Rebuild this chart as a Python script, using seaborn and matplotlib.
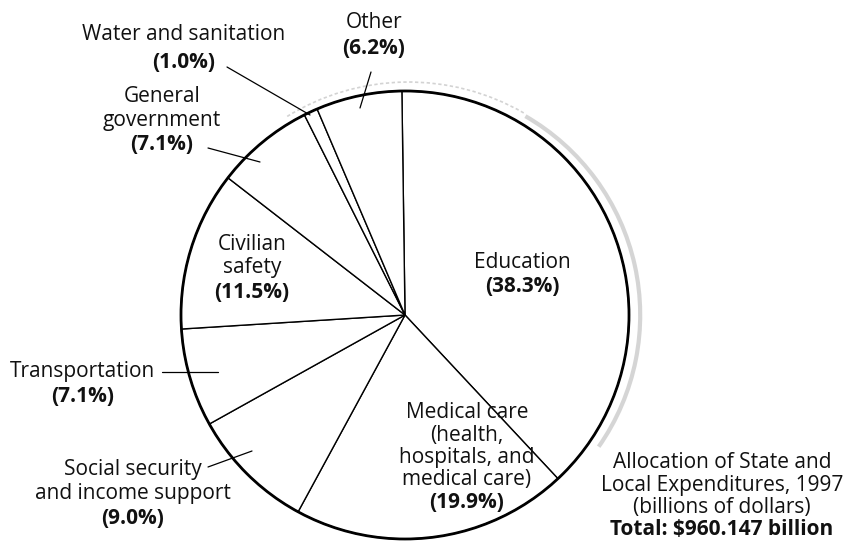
import matplotlib
matplotlib.use("Agg")
import matplotlib.pyplot as plt
import matplotlib.patches as mpatches
import seaborn as sns

categories = ["Education", "Medical care", "Social security", "Transportation",
              "Civilian safety", "General government", "Water and sanitation", "Other"]
label_lines = [
    ["Education"],
    ["Medical care", "(health,", "hospitals, and", "medical care)"],
    ["Social security", "and income support"],
    ["Transportation"],
    ["Civilian", "safety"],
    ["General", "government"],
    ["Water and sanitation"],
    ["Other"],
]
shares = [38.3, 19.9, 9.0, 7.1, 11.5, 7.1, 1.0, 6.2]
footer_lines = ["Allocation of State and", "Local Expenditures, 1997", "(billions of dollars)"]
footer_total = "Total: $960.147 billion"

sns.set_theme(style="white")
plt.rcParams["font.family"] = ["Open Sans", "DejaVu Sans"]

W, H = 846, 541
CX, CY, R = 405, 315, 224

fig = plt.figure(figsize=(W / 100, H / 100), dpi=100)
ax = fig.add_axes([0, 0, 1, 1])

ax.pie(shares, startangle=90.8, counterclock=False, radius=1,
       colors=["white"] * len(shares),
       wedgeprops=dict(edgecolor="black", linewidth=1.0))
ax.set_aspect("auto")
ax.set_xlim((0 - CX) / R, (W - CX) / R)
ax.set_ylim((CY - H) / R, CY / R)
ax.axis("off")

# faint scan-shadow arc along the upper right edge
ax.add_patch(mpatches.Arc((0.025, 0.0), 2.05, 2.05, theta1=-35, theta2=60,
                          color="#c4c4c4", lw=3.0, alpha=0.7))
ax.add_patch(mpatches.Arc((0.015, 0.01), 2.06, 2.06, theta1=60, theta2=122,
                          color="#c8c8c8", lw=1.2, ls=(0, (2, 1.5)), alpha=0.8))
ax.add_patch(mpatches.Circle((0, 0), 1, fill=False, lw=2.0, edgecolor="black", zorder=5))


def d(px, py):
    return (px - CX) / R, (CY - py) / R


FS = 15

# label anchor (pixel center of first line), line spacing
anchors = {
    0: (522, 262, 25),
    1: (467, 413, 22.3),
    2: (133, 469, 24.5),
    3: (83, 372, 25),
    4: (252, 244, 24),
    5: (162, 96, 24.5),
    6: (184, 35, 27),
    7: (374, 23, 25),
}

for i, lines in enumerate(label_lines):
    px, py, lh = anchors[i]
    for j, t in enumerate(lines):
        x, y = d(px, py + j * lh)
        ax.text(x, y, t, ha="center", va="center", fontsize=FS, color="#111111")
    x, y = d(px, py + len(lines) * lh)
    ax.text(x, y, f"({shares[i]:.1f}%)", ha="center", va="center",
            fontsize=FS, fontweight="bold", color="#111111")

leaders = [
    ((162, 372), (218, 372)),   # transportation
    ((208, 467), (252, 451)),   # social security
    ((208, 148), (260, 162)),   # general government
    ((227, 67), (310, 115)),    # water
    ((371, 72), (360, 108)),    # other
]
for (x0, y0), (x1, y1) in leaders:
    a, b = d(x0, y0)
    c, e = d(x1, y1)
    ax.plot([a, c], [b, e], color="black", lw=0.9, zorder=6)

for j, t in enumerate(footer_lines):
    x, y = d(722, 463 + j * 22.3)
    ax.text(x, y, t, ha="center", va="center", fontsize=FS, color="#111111")
x, y = d(722, 463 + 3 * 22.3)
ax.text(x, y, footer_total, ha="center", va="center", fontsize=FS,
        fontweight="bold", color="#111111")

fig.savefig("out.png", dpi=100)
